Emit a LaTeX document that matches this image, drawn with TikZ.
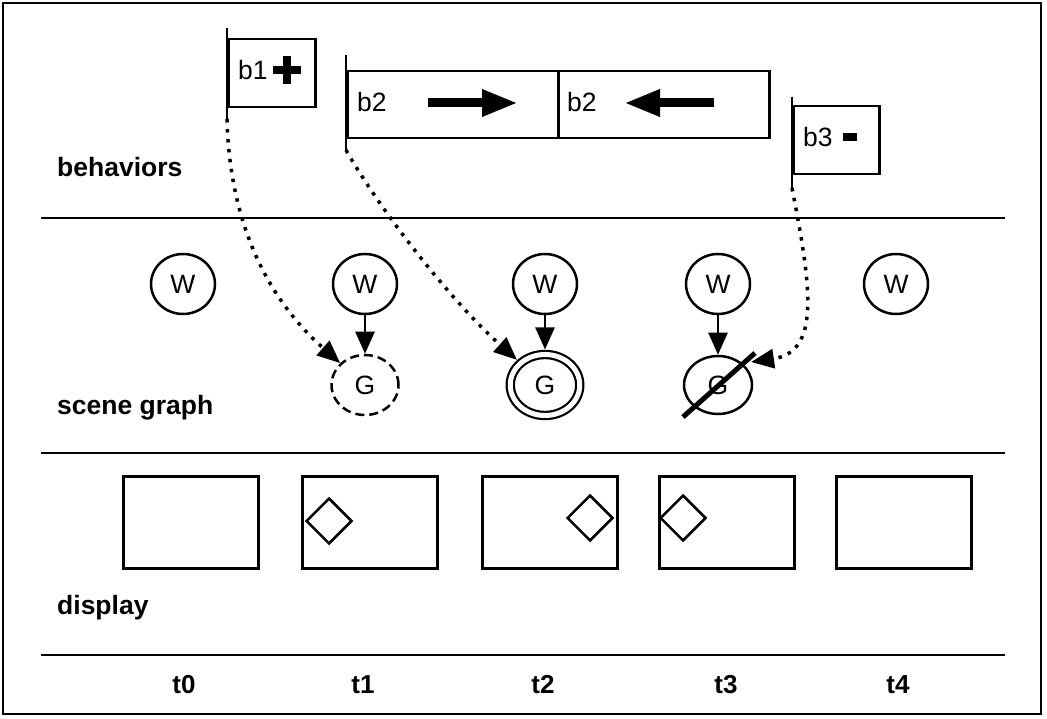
\documentclass[tikz,border=0pt]{standalone}
\usepackage{fontspec}
\setmainfont{Liberation Sans}
\usetikzlibrary{arrows.meta,shapes.geometric,calc}
\begin{document}
\begin{tikzpicture}[x=1pt,y=-1pt,
  frame/.style={draw, line width=2pt},
  sep/.style={line width=2.5pt},
  flagline/.style={line width=2.5pt},
  bbox/.style={draw, line width=2.5pt, rectangle, inner sep=0pt, anchor=north west},
  btext/.style={font=\fontsize{26.5}{30}\selectfont, anchor=base west, inner sep=0pt},
  lbl/.style={font=\fontsize{26.5}{30}\selectfont\bfseries, anchor=base west, inner sep=0pt},
  tlbl/.style={font=\fontsize{26}{30}\selectfont\bfseries, anchor=base, inner sep=0pt},
  circ/.style={draw, ellipse, line width=2.5pt, inner sep=0pt, font=\fontsize{26.5}{30}\selectfont},
  wnode/.style={circ, minimum width=64pt, minimum height=60pt},
  gnew/.style={circ, dashed, dash pattern=on 9pt off 5pt, minimum width=67pt, minimum height=60pt},
  gact/.style={circ, line width=2.2pt, double, double distance=5pt, minimum width=69.5pt, minimum height=61pt, outer sep=5pt},
  gdel/.style={circ, minimum width=68pt, minimum height=58pt},
  tree/.style={line width=2.5pt, -{Triangle[length=22pt,width=19pt]}},
  link/.style={line width=3.5pt, dash pattern=on 3.5pt off 6.5pt, -{Triangle[length=23pt,width=19pt]}},
  bigarrow/.style={line width=9pt, -{Triangle[length=36pt,width=25pt]}},
  disp/.style={draw, line width=3pt, rectangle, inner sep=0pt, anchor=north west, minimum width=135pt, minimum height=92pt},
  obj/.style={draw, diamond, line width=2.5pt, inner sep=0pt, minimum width=46pt, minimum height=46pt}
]
\useasboundingbox (0,0) rectangle (1047,719);
\path[frame] (3,3) rectangle (1041,714);

% separators
\coordinate (s1l) at (41,218); \coordinate (s1r) at (1005,218);
\coordinate (s2l) at (41,453); \coordinate (s2r) at (1005,453);
\coordinate (s3l) at (41,655); \coordinate (s3r) at (1005,655);
\draw[sep] (s1l) -- (s1r);
\draw[sep] (s2l) -- (s2r);
\draw[sep] (s3l) -- (s3r);

% row labels
\node[lbl] (lbeh) at (57,177) {behaviors};
\node[lbl] (lsg) at (57,414) {scene graph};
\node[lbl] (ldisp) at (57,614) {display};

% time labels
\node[tlbl] (t0) at (184,693) {t0};
\node[tlbl] (t1) at (363,693) {t1};
\node[tlbl] (t2) at (543,693) {t2};
\node[tlbl] (t3) at (726,693) {t3};
\node[tlbl] (t4) at (898,693) {t4};

% behavior b1
\coordinate (b1top) at (227,28); \coordinate (b1foot) at (227,119);
\node[bbox, minimum width=87pt, minimum height=68pt] (b1box) at (227,38) {};
\draw[flagline] (b1top) -- (b1foot);
\node[btext] (b1txt) at (238,80) {b1};
\fill (273,66.5) rectangle (301,74);
\fill (283,56) rectangle (290.5,84.5);

% behavior b2
\coordinate (b2top) at (346,55); \coordinate (b2foot) at (346,150);
\node[bbox, minimum width=211pt, minimum height=67pt] (b2a) at (346,70) {};
\node[bbox, minimum width=211pt, minimum height=67pt] (b2b) at (557,70) {};
\draw[flagline] (b2top) -- (b2foot);
\node[btext] (b2txta) at (357,112) {b2};
\node[btext] (b2txtb) at (567,112) {b2};
\coordinate (ra1) at (428,103); \coordinate (ra2) at (518,103);
\coordinate (la1) at (714,103); \coordinate (la2) at (624,103);
\draw[bigarrow] (ra1) -- (ra2);
\draw[bigarrow] (la1) -- (la2);

% behavior b3
\coordinate (b3top) at (792,97); \coordinate (b3foot) at (792,188);
\node[bbox, minimum width=86pt, minimum height=68pt] (b3box) at (792,105) {};
\draw[flagline] (b3top) -- (b3foot);
\node[btext] (b3txt) at (803,147) {b3};
\fill (843,133) rectangle (857,141);

% scene graph
\node[wnode] (w0) at (183,284) {W};
\node[wnode] (w1) at (365,284) {W};
\node[wnode] (w2) at (545,284) {W};
\node[wnode] (w3) at (718,284) {W};
\node[wnode] (w4) at (896,284) {W};
\node[gnew] (g1) at (365,385) {G};
\node[gact] (g2) at (545,385) {G};
\node[gdel] (g3) at (718,385) {G};
\draw[tree] (w1) -- (g1);
\draw[tree] (w2) -- (g2);
\draw[tree] (w3) -- (g3);
\coordinate (x1) at ($(g3)+(-35,32)$);
\coordinate (x2) at ($(g3)+(37,-32)$);
\draw[line width=5pt] (x1) -- (x2);
\coordinate (g3hit) at ($(g3)+(33,-23)$);

% links behaviors -> scene graph
\draw[link] (b1foot) .. controls (230,240) and (280,310) .. (g1);
\draw[link] (b2foot) .. controls (380,210) and (450,300) .. (g2);
\draw[link] (b3foot) .. controls (812,290) and (820,352) .. (g3hit);

% display
\node[disp] (d0) at (122,475) {};
\node[disp] (d1) at (301,475) {};
\node[disp] (d2) at (481,475) {};
\node[disp] (d3) at (658,475) {};
\node[disp] (d4) at (835,475) {};
\node[obj] (o1) at (329,521) {};
\node[obj] (o2) at (590,518) {};
\node[obj] (o3) at (683,518) {};
\end{tikzpicture}
\end{document}
